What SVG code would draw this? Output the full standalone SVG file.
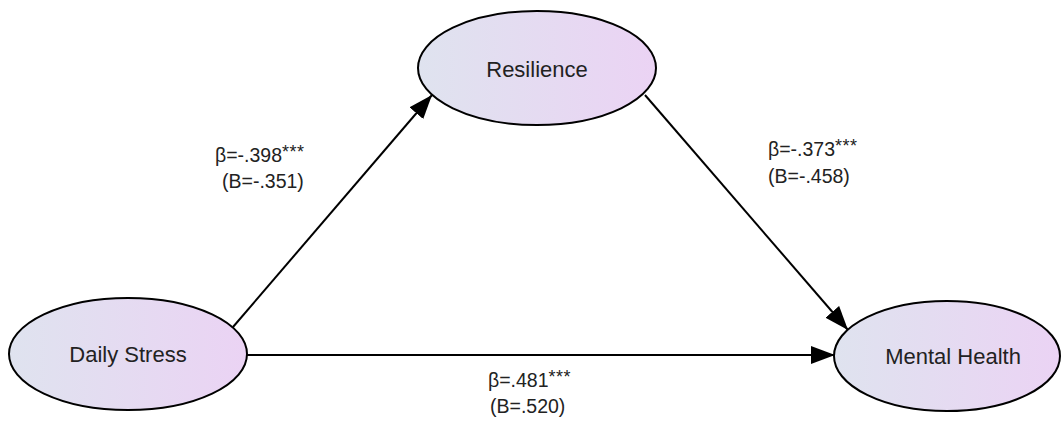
<svg xmlns="http://www.w3.org/2000/svg" width="1062" height="424" viewBox="0 0 1062 424">
  <defs>
    <linearGradient id="nodeFill" x1="0" y1="0" x2="1" y2="0">
      <stop offset="0" stop-color="#dfe3ef"/>
      <stop offset="1" stop-color="#ebd3f4"/>
    </linearGradient>
    <marker id="arrow" viewBox="0 0 24 18" refX="24" refY="9" markerWidth="24" markerHeight="18" markerUnits="userSpaceOnUse" orient="auto">
      <path d="M0,0 L24,9 L0,18 Z" fill="#000"/>
    </marker>
    <style>
      .node ellipse { fill: url(#nodeFill); stroke: #000; stroke-width: 2; }
      .node text { font-family: "Liberation Sans", Arial, sans-serif; font-size: 22px; fill: #222; text-anchor: middle; }
      .edge { stroke: #000; stroke-width: 2; fill: none; marker-end: url(#arrow); }
      .lbl { font-family: "Liberation Sans", Arial, sans-serif; font-size: 19.5px; fill: #222; }
      .sup { font-size: 18px; letter-spacing: 0.5px; }
    </style>
  </defs>
  <rect width="1062" height="424" fill="#fff"/>
  <g id="connectors">
    <line class="edge" x1="233" y1="327" x2="432" y2="95"/>
    <line class="edge" x1="645" y1="95" x2="848" y2="330"/>
    <line class="edge" x1="246" y1="355" x2="835" y2="355"/>
  </g>
  <g id="labels">
    <text class="lbl" x="215" y="162">β=-.398<tspan class="sup" dy="-4">***</tspan></text>
    <text class="lbl" x="222" y="188">(B=-.351)</text>
    <text class="lbl" x="768" y="156">β=-.373<tspan class="sup" dy="-4">***</tspan></text>
    <text class="lbl" x="768" y="183">(B=-.458)</text>
    <text class="lbl" x="488" y="387">β=.481<tspan class="sup" dy="-4">***</tspan></text>
    <text class="lbl" x="490" y="413">(B=.520)</text>
  </g>
  <g id="node-resilience" class="node">
    <ellipse cx="537" cy="68" rx="119" ry="57"/>
    <text x="537" y="77">Resilience</text>
  </g>
  <g id="node-daily-stress" class="node">
    <ellipse cx="128" cy="354" rx="119" ry="56"/>
    <text x="128" y="362">Daily Stress</text>
  </g>
  <g id="node-mental-health" class="node">
    <ellipse cx="947" cy="356" rx="113" ry="55"/>
    <text x="953" y="364">Mental Health</text>
  </g>
</svg>
